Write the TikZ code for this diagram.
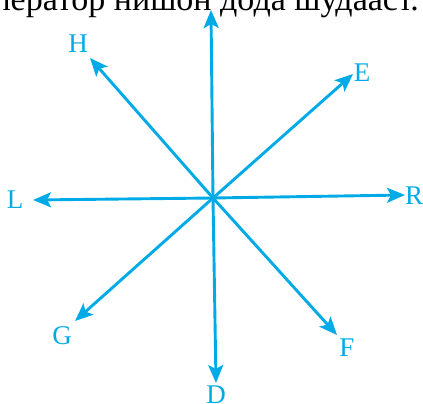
\documentclass[tikz,border=0pt]{standalone}
\usepackage{fontspec}
\setmainfont{Liberation Serif}
\usepackage{xcolor}
\usepackage{tikz}
\usetikzlibrary{arrows.meta, positioning}
\definecolor{dirblue}{RGB}{0,170,230}

\begin{document}
\begin{tikzpicture}[x=1pt, y=-1pt,
    ray/.style={-{Stealth[length=18pt, width=15pt, inset=4pt]}, line width=2.9pt, draw=dirblue},
    lbl/.style={text=dirblue, font=\fontsize{27}{29}\selectfont, inner sep=0pt}
]
\useasboundingbox (0,0) rectangle (423,404);
\node[anchor=base east, inner sep=0pt, font=\fontsize{34}{38}\selectfont] (txt) at (419,11) {ператор нишон дода шудааст.};
\coordinate (O) at (213,198);
\coordinate (tN) at (211,10);
\coordinate (tS) at (216,383);
\coordinate (tW) at (33,200);
\coordinate (tE) at (405,195);
\coordinate (tH) at (90,58);
\coordinate (tEE) at (353,74);
\coordinate (tG) at (75,321);
\coordinate (tF) at (337,335);
\node[lbl] (H) at (78,44) {H};
\node[lbl] (E) at (362,73) {E};
\node[lbl] (L) at (15,200) {L};
\node[lbl] (R) at (414,196) {R};
\node[lbl] (G) at (62,336) {G};
\node[lbl] (F) at (347,348) {F};
\node[lbl] (D) at (216,395) {D};
\draw[ray] (O) -- (tN);
\draw[ray] (O) -- (tS);
\draw[ray] (O) -- (tW);
\draw[ray] (O) -- (tE);
\draw[ray] (O) -- (tH);
\draw[ray] (O) -- (tEE);
\draw[ray] (O) -- (tG);
\draw[ray] (O) -- (tF);
\end{tikzpicture}
\end{document}
